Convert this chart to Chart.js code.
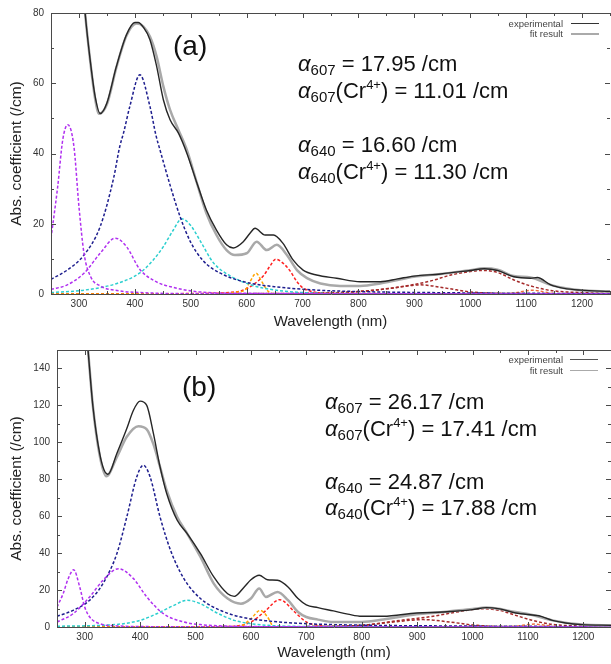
<!DOCTYPE html>
<html><head><meta charset="utf-8">
<script src="https://cdn.jsdelivr.net/npm/chart.js@4"></script>
<style>
html,body{margin:0;padding:0;background:#fff}
#wrap{position:relative;width:611px;height:664px;background:#fff;overflow:hidden}
canvas{position:absolute;left:0}
.ann{position:absolute;font-family:'Liberation Sans',Arial,sans-serif;font-size:22px;line-height:22px;white-space:nowrap;color:#111}
.ann sub{font-size:15px;vertical-align:baseline;position:relative;top:4px}
.ann sup{font-size:13px;vertical-align:baseline;position:relative;top:-9px}
.lab{position:absolute;font-family:'Liberation Sans',Arial,sans-serif;font-size:28px;line-height:28px;color:#111}
.leg{position:absolute;font-family:'Liberation Sans',Arial,sans-serif;font-size:9.5px;line-height:10px;color:#444;text-align:right;white-space:nowrap}
.ll{position:absolute;width:28px}
</style></head>
<body><div id="wrap">
<canvas id="ca" width="611" height="332" style="top:0"></canvas>
<canvas id="cb" width="611" height="332" style="top:332px"></canvas>

<div class="lab" style="left:173px;top:32px">(a)</div>
<div class="ann" style="left:298px;top:53px"><i>α</i><sub>607</sub> = 17.95 /cm</div>
<div class="ann" style="left:298px;top:80px"><i>α</i><sub>607</sub>(Cr<sup>4+</sup>) = 11.01 /cm</div>
<div class="ann" style="left:298px;top:134px"><i>α</i><sub>640</sub> = 16.60 /cm</div>
<div class="ann" style="left:298px;top:161px"><i>α</i><sub>640</sub>(Cr<sup>4+</sup>) = 11.30 /cm</div>
<div class="leg" style="right:48px;top:19px">experimental</div>
<div class="leg" style="right:48px;top:29px">fit result</div>
<div class="ll" style="left:571px;top:23px;border-top:1.5px solid #333"></div>
<div class="ll" style="left:571px;top:33px;border-top:2px solid #aaa"></div>

<div class="lab" style="left:182px;top:373px">(b)</div>
<div class="ann" style="left:325px;top:391px"><i>α</i><sub>607</sub> = 26.17 /cm</div>
<div class="ann" style="left:325px;top:418px"><i>α</i><sub>607</sub>(Cr<sup>4+</sup>) = 17.41 /cm</div>
<div class="ann" style="left:325px;top:471px"><i>α</i><sub>640</sub> = 24.87 /cm</div>
<div class="ann" style="left:325px;top:497px"><i>α</i><sub>640</sub>(Cr<sup>4+</sup>) = 17.88 /cm</div>
<div class="leg" style="right:48px;top:355px">experimental</div>
<div class="leg" style="right:48px;top:366px">fit result</div>
<div class="ll" style="left:570px;top:359px;border-top:1.5px solid #555"></div>
<div class="ll" style="left:570px;top:370px;border-top:1.5px solid #aaa"></div>
</div>
<script>
// ---- tick labels ----
const xMajor = [300,400,500,600,700,800,900,1000,1100,1200];
const xMinor = [250,350,450,550,650,750,850,950,1050,1150,1250];
const aYMajor = [0,20,40,60,80];
const aYMinor = [10,30,50,70];
const bYMajor = [0,20,40,60,80,100,120,140];
const bYMinor = [10,30,50,70,90,110,130];

// ---- panel (a) ----
const aExpX = [300,305,311,320,329,338,350,367,385,400,406,415,427,439,451,463,478,493,511,528,546,564,576,594,606,615,633,648,665,683,701,725,761,803,839,870,899,947,1000,1025,1049,1078,1108,1120,1144,1168,1198,1250];
const aExpY = [110,92,80,66.7,56.2,51.4,54.4,64.8,73.8,77.3,77.3,76,72.4,64.8,55.3,49.6,45.8,40.1,31.6,23.9,18.2,14,13.1,14.9,17.3,18.7,16.8,16.8,14.4,9.7,6.8,5.4,4.5,3.5,3.5,4.3,5.1,5.7,6.7,7.2,6.7,4.9,4.5,4.7,2.6,1.6,1.1,0.7];
const aFitX = [300,305,311,320,329,336,350,367,385,403,415,427,439,451,463,478,493,511,528,546,564,579,600,618,636,654,672,690,708,732,767,803,839,870,899,947,1000,1025,1049,1078,1108,1144,1168,1198,1250];
const aFitY = [110,92,80,66.5,55.5,51.3,54,64.5,73.5,77,76.2,73.3,67.6,59.1,52.4,46.7,41,31.6,23,16.8,12.5,11.1,11.6,14.9,12.5,14,11.1,6.8,4.5,3,2.3,2.3,3,4,4.9,5.7,6.8,7.3,6.9,5.1,4.7,2.6,1.7,1.1,0.7];
const aP1X = [250,262,271,280,291,300,309,321,338,368,426,500,1250];
const aP1Y = [15.9,30.6,43.9,48.2,42,24.9,11.6,4.9,2.3,1,0.3,0.1,0];
const aP2X = [250,279,309,338,365,385,409,438,468,515,600,1250];
const aP2Y = [1.3,2.6,5.9,11.6,15.9,13.5,7,3.5,1.9,0.6,0.2,0];
const aNvX = [250,279,309,338,362,373,380,391,409,427,438,445,463,481,499,522,552,600,662,726,800,1000,1250];
const aNvY = [4.2,6.8,11.1,19.2,33,42,46,53.4,62.4,53.4,45,41,31,22,15,9.5,6,3.3,1.9,1.1,0.7,0.3,0.1];
const aCyX = [250,309,368,409,433,451,468,484,500,516,540,570,606,632,691,800,1250];
const aCyY = [0.4,1.1,3,6,9.7,13.5,18,21.4,19.5,15.4,9,5.2,2.7,1.6,0.5,0.1,0];
const aOrX = [250,550,585,597,606,617,627,639,650,1250];
const aOrY = [0,0,0.6,1.1,3.5,5.9,3.5,0.7,0,0];
const aRdX = [250,540,574,588,603,615,630,642,652,665,678,690,700,715,740,1250];
const aRdY = [0,0.2,0.5,0.8,1.8,3,5.2,8,9.9,8.8,6.5,3.5,1.8,0.8,0.2,0];
const aDr1X = [250,650,700,800,857,911,959,1000,1049,1250];
const aDr1Y = [0,0,0.1,0.7,1.6,2.6,1.6,0.6,0.2,0];
const aDr2X = [250,700,800,869,929,965,1000,1022,1049,1078,1108,1144,1198,1250];
const aDr2Y = [0,0.2,0.7,1.9,3.7,5.4,6.4,6.7,6.1,4,2.3,1,0.4,0.2];
const aOr2X = [250,1050,1080,1100,1112,1125,1145,1170,1250];
const aOr2Y = [0,0,0.3,0.9,1.1,0.8,0.2,0,0];

// ---- panel (b) ----
const bExpX = [300,306,315,327,335,342,358,376,388,400,412,424,436,448,467,485,509,533,558,570,588,600,615,630,648,667,685,700,721,749,775,800,839,899,947,1000,1025,1049,1078,1108,1120,1144,1168,1198,1250];
const bExpY = [170,150,119,94,85,82.7,94,107.5,117.4,122.3,120,104.8,86.7,72.3,57.8,50.6,39.7,27.1,18,16.6,21.7,25.6,28,25.6,25.3,21.7,15.4,12,10.5,8.7,7,5.8,5.8,7.6,8.1,9.4,10.5,9.8,7.6,6.5,6.1,3.6,2.2,1.3,0.9];
const bFitX = [300,306,315,327,339,358,376,397,412,424,436,448,467,485,509,533,558,582,600,615,627,648,667,685,700,721,749,800,839,899,947,1000,1025,1078,1108,1144,1198,1250];
const bFitY = [170,150,119,93,81.6,92,103,108.7,107,99,86.7,74,59.6,50.6,37.9,23.5,15.4,12.6,15.4,20.8,16.3,19,14.5,8.1,5.4,4,2.7,2.7,4,6.9,8.1,9.8,10.5,8.1,6.5,3.6,1.3,0.9];
const bP1X = [250,261,270,280,291,300,309,327,358,420,1250];
const bP1Y = [10.8,18,26,31,21.7,10.8,5.4,1.8,0.6,0.2,0];
const bP2X = [250,279,309,333,361,388,412,442,479,509,570,700,1250];
const bP2Y = [2.7,7.2,16.3,25.3,31.6,26.2,16.3,7.2,2.7,1.3,0.4,0.1,0];
const bNvX = [250,279,309,333,358,376,394,406,418,436,455,479,509,545,582,630,700,800,1000,1250];
const bNvY = [5.8,9,14.5,23.5,39.7,59.6,81.3,87.6,81.3,59.6,41.5,26.2,15.4,9,5.4,3.3,1.8,1,0.5,0.2];
const bCyX = [250,358,400,430,461,485,509,539,570,600,642,750,1250];
const bCyY = [0.4,1.4,3.6,7.2,11.7,14.5,12.6,7.6,3.6,1.8,0.7,0.2,0];
const bOrX = [250,560,582,600,617,630,639,650,1250];
const bOrY = [0,0,0.5,4.5,9,5.4,0.9,0,0];
const bRdX = [250,540,570,600,624,652,679,700,721,750,1250];
const bRdY = [0,0.2,0.4,2.7,8.1,14.8,8.1,2.7,0.9,0.2,0];
const bDr1X = [250,650,700,800,857,911,959,1000,1049,1250];
const bDr1Y = [0,0,0.2,0.9,2.7,4,2.7,1.1,0.3,0];
const bDr2X = [250,700,800,869,929,971,1020,1049,1078,1108,1144,1198,1250];
const bDr2Y = [0,0.2,0.9,3.6,5.8,8.1,9.9,9,6.3,3.6,1.4,0.5,0.3];
const bOr2X = [250,1050,1080,1100,1112,1125,1145,1170,1250];
const bOr2Y = [0,0,0.5,1.3,1.6,1.2,0.3,0,0];

const FONT = "'Liberation Sans', Arial, sans-serif";
const pts = (xs, ys) => xs.map((x, i) => ({x: x, y: ys[i]}));
const solid = (xs, ys, color, w) => ({data: pts(xs, ys), borderColor: color, borderWidth: w, pointRadius: 0, cubicInterpolationMode: 'monotone', fill: false});
const dash = (xs, ys, color) => ({data: pts(xs, ys), borderColor: color, borderWidth: 1.5, borderDash: [3, 2], pointRadius: 0, cubicInterpolationMode: 'monotone', fill: false});

const frameTicks = {
  id: 'frameTicks',
  afterDatasetsDraw(chart, args, opts) {
    const {ctx, chartArea: ca, scales: {x, y}} = chart;
    ctx.save();
    ctx.strokeStyle = '#4a4a4a';
    ctx.lineWidth = 1;
    ctx.beginPath();
    ctx.moveTo(ca.left, ca.top + 0.5); ctx.lineTo(ca.right + 5, ca.top + 0.5);
    ctx.moveTo(ca.left + 0.5, ca.top); ctx.lineTo(ca.left + 0.5, ca.bottom);
    ctx.moveTo(ca.left, ca.bottom + 0.5); ctx.lineTo(ca.right + 5, ca.bottom + 0.5);
    const xt = (vals, len) => vals.forEach(v => {
      const px = Math.round(x.getPixelForValue(v)) + 0.5;
      ctx.moveTo(px, ca.bottom); ctx.lineTo(px, ca.bottom - len);
      ctx.moveTo(px, ca.top); ctx.lineTo(px, ca.top + len);
    });
    const yt = (vals, len) => vals.forEach(v => {
      const py = Math.round(y.getPixelForValue(v)) + 0.5;
      ctx.moveTo(ca.left, py); ctx.lineTo(ca.left + len, py);
      ctx.moveTo(ca.right, py); ctx.lineTo(ca.right - len, py);
    });
    xt(xMajor, 5); xt(xMinor, 3);
    yt(opts.yMajor, 5); yt(opts.yMinor, 3);
    ctx.stroke();
    ctx.restore();
  }
};

function build(id, p) {
  return new Chart(document.getElementById(id), {
    type: 'line',
    data: {datasets: p.datasets},
    options: {
      responsive: false, animation: false, devicePixelRatio: 1,
      layout: {padding: {top: p.padTop, right: p.padRight, left: 0, bottom: 0}},
      plugins: {legend: {display: false}, tooltip: {enabled: false}, frameTicks: {yMajor: p.yMajor, yMinor: p.yMinor}},
      scales: {
        x: {
          type: 'linear', min: 250, max: 1250,
          afterBuildTicks: s => { s.ticks = xMajor.map(v => ({value: v})); },
          afterFit: s => { s.height = p.xH; },
          grid: {display: false, drawTicks: false},
          border: {display: false},
          ticks: {padding: 4, color: '#333', font: {family: FONT, size: 10}, callback: v => String(v)},
          title: {display: true, text: 'Wavelength (nm)', color: '#222', font: {family: FONT, size: 15}, padding: {top: 0, bottom: p.xTitlePad}}
        },
        y: {
          type: 'linear', min: 0, max: p.yMax,
          afterBuildTicks: s => { s.ticks = p.yMajor.map(v => ({value: v})); },
          afterFit: s => { s.width = p.yW; },
          grid: {display: false, drawTicks: false},
          border: {display: false},
          ticks: {padding: 7, color: '#333', font: {family: FONT, size: 10}, callback: v => String(v)},
          title: {display: true, text: 'Abs. coefficient (/cm)', color: '#222', font: {family: FONT, size: 15.5}, padding: {top: 7, bottom: 0}}
        }
      }
    },
    plugins: [frameTicks]
  });
}

build('ca', {
  padTop: 13, padRight: 1, xH: 38, yW: 51, yMax: 80, xTitlePad: 1,
  yMajor: aYMajor, yMinor: aYMinor,
  datasets: [
    solid(aExpX, aExpY, '#262626', 1.4),
    solid(aFitX, aFitY, '#a9a9a9', 2.5),
    dash(aP1X, aP1Y, '#b030f0'),
    dash(aP2X, aP2Y, '#b030f0'),
    dash(aNvX, aNvY, '#1e1e8e'),
    dash(aCyX, aCyY, '#2ccfcf'),
    dash(aOrX, aOrY, '#ffa500'),
    dash(aRdX, aRdY, '#ff2020'),
    dash(aDr1X, aDr1Y, '#a52a2a'),
    dash(aDr2X, aDr2Y, '#a52a2a'),
    dash(aOr2X, aOr2Y, '#f07040')
  ]
});

build('cb', {
  padTop: 18, padRight: 0, xH: 37, yW: 57, yMax: 150, xTitlePad: 2,
  yMajor: bYMajor, yMinor: bYMinor,
  datasets: [
    solid(bExpX, bExpY, '#262626', 1.4),
    solid(bFitX, bFitY, '#a9a9a9', 2.5),
    dash(bP1X, bP1Y, '#b030f0'),
    dash(bP2X, bP2Y, '#b030f0'),
    dash(bNvX, bNvY, '#1e1e8e'),
    dash(bCyX, bCyY, '#2ccfcf'),
    dash(bOrX, bOrY, '#ffa500'),
    dash(bRdX, bRdY, '#ff2020'),
    dash(bDr1X, bDr1Y, '#a52a2a'),
    dash(bDr2X, bDr2Y, '#a52a2a'),
    dash(bOr2X, bOr2Y, '#f07040')
  ]
});
</script>
</body></html>
